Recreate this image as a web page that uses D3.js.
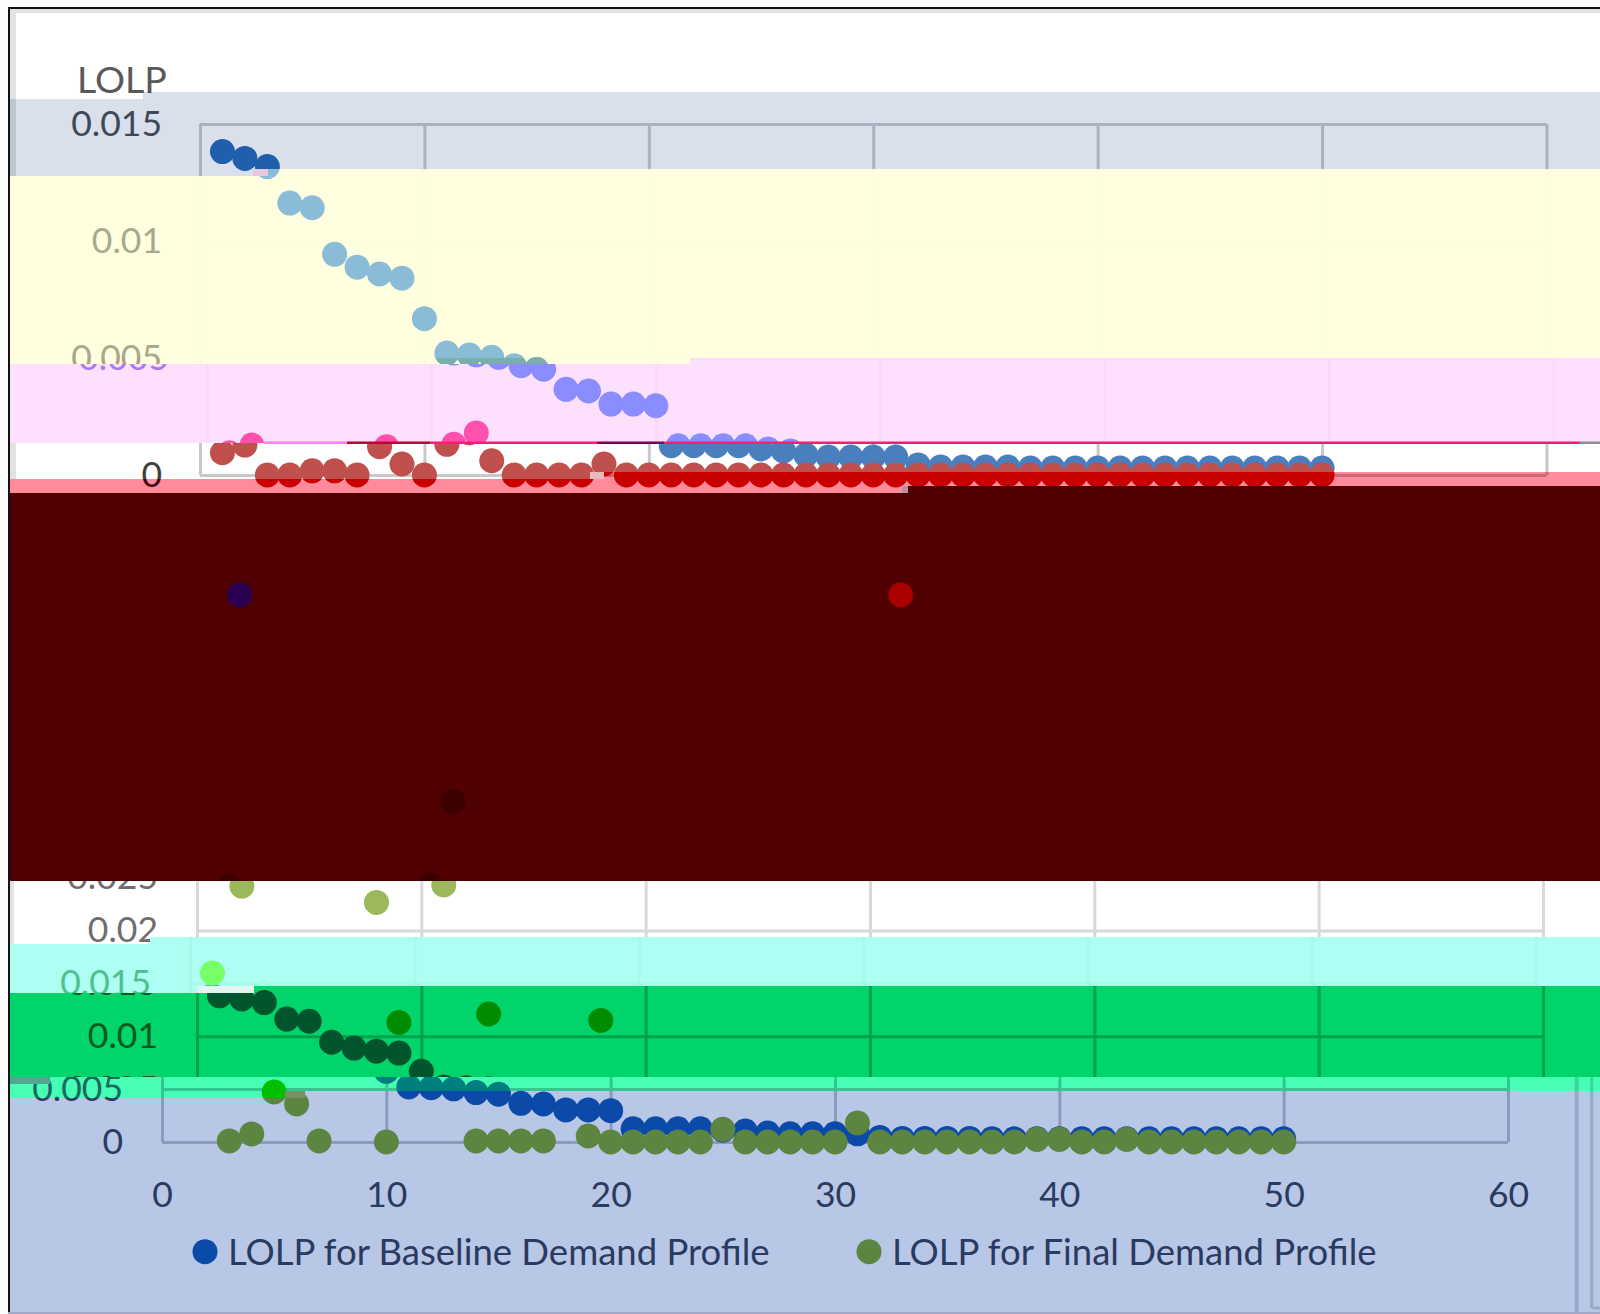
<!DOCTYPE html>
<html>
    <head>
        <title>LOLP</title>
        <script src="https://d3js.org/d3.v7.min.js"></script>
        <style>
            html, body { margin: 0; padding: 0; background: #fcfcfc; }
            svg { display: block; }
            text { font-family: Lato, "Open Sans", sans-serif; }
        </style>
    </head>
    <body>
        <svg class="chart"></svg>
        <script>
            // values
            var hours = d3.range(1, 51);
            var baselineLolp = [.01382,.01353,.01318,.01162,.01142,.00943,.00888,.00859,.00841,.00668,
                                .00521,.00513,.00503,.00467,.00452,.00366,.00359,.00303,.00303,.00296,
                                .00125,.00125,.00125,.00125,.00111,.00103,.00085,.00077,.00077,.00077,
                                .00077,.00043,.00034,.00034,.00034,.00034,.0003,.0003,.0003,.0003,
                                .0003,.0003,.0003,.0003,.0003,.0003,.0003,.0003,.0003,.0003];
            var topLolp = [.00095,.00128,0,0,.00018,.00018,0,.00121,.00047,0,
                           .00131,.0018,.00061,0,0,0,0,.00047,0,0,
                           0,0,0,0,0,0,0,0,0,0,
                           0,0,0,0,0,0,0,0,0,0,
                           0,0,0,0,0,0,0,0,0,0];
            var finalLolp = [.01598,.0242,.0001,.00076,.00473,.0036,.0001,.02265,.0113,0,
                             .0243,.0322,.0121,.0001,.0001,.0001,.0001,.0115,.00057,0,
                             0,0,0,0,.0012,0,0,0,0,0,
                             .0018,0,0,0,0,0,0,0,.00025,.00025,
                             0,0,.00025,0,0,0,0,0,0,0];
            var xTicks = [0,10,20,30,40,50,60];
            var yTicksTop = [0,.005,.01,.015];
            var yTicksLow = [0,.005,.01,.015,.02,.025];
            var legendNames = ["LOLP for Baseline Demand Profile","LOLP for Final Demand Profile"];

            var svgWidth = 1600, svgHeight = 1314, fontSize = 35.5, titleSize = 37.5, legendSize = 36.5;

            var svg = d3.select(".chart").attr("width",svgWidth).attr("height",svgHeight);
            var defs = svg.append("defs");

            // the two charts stacked in the picture
            var scenes = {
                top: {
                    x: d3.scaleLinear().domain([0,60]).range([200,1546.5]),
                    y: d3.scaleLinear().domain([0,.015]).range([475,124]),
                    ticks: yTicksTop, a: baselineLolp, b: topLolp, labelGap: 38
                },
                low: {
                    x: d3.scaleLinear().domain([0,60]).range([197,1543]),
                    y: d3.scaleLinear().domain([0,.025]).range([1142,877.6]),
                    ticks: yTicksLow, a: baselineLolp, b: finalLolp, labelGap: 39
                }
            };

            // the damaged horizontal stretches: each one recolours and shifts what is under it
            // step = x where the stretch starts one row higher (h px)
            var bands = [
                {y:9,   step:10,  h:0, scene:"top", dx:0,  bg:"#ffffff", grid:"#c4c4c4", text:"#595959", a:"#2060ab", b:"#c0504d", edge:"#e2e2e2"},
                {y:92,  step:143, h:7, scene:"top", dx:0,  bg:"#d9e0eb", grid:"#aab2bf", text:"#3f4856", a:"#1f5fab", b:"#c0504d", edge:"#bfc7d3"},
                {y:169, step:253, h:7, scene:"top", dx:0,  bg:"#ffffe0", grid:"#fefede", text:"#a9a98c", a:"#8abcd8", b:"#c0504d", edge:"#ffffe0"},
                {y:358, step:10,  h:0, scene:"top", dx:0,  bg:"#ffffe0", grid:"#fefede", text:"#b0a080", a:"#7aaea8", b:"#c0504d", edge:"#ffffe0"},
                {y:358, step:690, h:6, scene:"top", dx:7,  bg:"#fce0fd", grid:"#f9daf9", text:"#a878f0", a:"#8a8cff", b:"#ff50b0", edge:"#fce0fd"},
                {y:443, step:10,  h:0, scene:"top", dx:0,  bg:"#ffffff", grid:"#c8c8c8", text:"#404040", a:"#4a7ebd", b:"#c0504d", edge:"#e2e2e2"},
                {y:472, step:590, h:7, scene:"top", dx:0,  bg:"#ff8a9c", grid:"#c86878", text:"#400010", a:"#a00040", b:"#c80000", edge:"#ff8a9c"},
                {y:486, step:902, h:7, scene:"low", dx:-13, bg:"#500000", grid:"none",   text:"none",    a:"#500000", b:"#3d0000", edge:"#500000", swatches:["#2a0050","#a80000"], legendX:[239.7,900.7], legendY:595},
                {y:881, step:10,  h:0, scene:"low", dx:0,  bg:"#ffffff", grid:"#d9d9d9", text:"#6e6e6e", a:"#2060ab", b:"#9bb85a", edge:"#e2e2e2"},
                {y:937, step:150, h:7, scene:"low", dx:-7, bg:"#adfff3", grid:"#a6fbe8", text:"#50c090", a:"#50c0c0", b:"#77ff66", edge:"#adfff3"},
                {y:986, step:198, h:7, scene:"low", dx:0,  bg:"#00d46a", grid:"#00a24a", text:"#0a5a20", a:"#00552d", b:"#008c00", edge:"#00d46a"},
                {y:1077,step:10,  h:0, scene:"low", dx:-35,bg:"#46ffb4", grid:"#30c890", text:"#1a6a60", a:"#007f80", b:"#00c000", edge:"#46ffb4", outer:"#36d8a0"},
                {y:1091,step:285, h:7, scene:"low", dx:-35,bg:"#b9c7e6", grid:"#8d9abc", text:"#2a3a60", a:"#0b4aa8", b:"#5b8540", edge:"#b9c7e6", outer:"#9ba7c7", legendX:[205,869], legendY:1251.7, legendText:true, swatches:["#0b4aa8","#5b8540"]}
            ];

            function bandPoints(cur, next) {
                var nextY = next ? next.y : 1313, nextStep = next ? next.step : 10, nextH = next ? next.h : 0;
                return [[10,cur.y+cur.h],[cur.step,cur.y+cur.h],[cur.step,cur.y],[svgWidth,cur.y],
                        [svgWidth,nextY],[nextStep,nextY],[nextStep,nextY+nextH],[10,nextY+nextH]];
            }

            function drawAxes(g, scene, band) {
                var width = scene.x.range()[1] - scene.x.range()[0],
                    height = scene.y.range()[0] - scene.y(d3.max(scene.ticks));
                var xAxis = d3.axisBottom(scene.x).tickValues(xTicks).tickSize(-height).tickPadding(40)
                    .tickFormat(band.scene == "low" ? d3.format("d") : "");
                var yAxis = d3.axisLeft(scene.y).tickValues(scene.ticks).tickSize(-width).tickPadding(scene.labelGap)
                    .tickFormat(function(d) { return String(d); });

                var xg = g.append("g").attr("transform","translate(0," + scene.y.range()[0] + ")").call(xAxis);
                var yg = g.append("g").attr("transform","translate(" + scene.x.range()[0] + ",0)").call(yAxis);
                [xg,yg].forEach(function(a) {
                    a.select(".domain").remove();
                    a.selectAll("line").attr("stroke",band.grid).attr("stroke-width",3);
                    a.selectAll("text").attr("fill",band.text).attr("font-size",fontSize)
                     .style("font-family","Lato, 'Open Sans', sans-serif");
                });
                if (band.scene == "top") {
                    g.append("text").attr("x",122).attr("y",93).attr("text-anchor","middle")
                        .attr("font-size",titleSize).attr("fill",band.text).text("LOLP");
                }
            }

            function drawDots(g, scene, values, color) {
                g.append("g").selectAll("circle")
                    .data(hours).enter().append("circle")
                    .attr("r",12.5)
                    .attr("cx",function(d) { return scene.x(d); })
                    .attr("cy",function(d,i) { return scene.y(values[i]); })
                    .attr("fill",color);
            }

            function drawLegend(g, band) {
                legendNames.forEach(function(name,i) {
                    var left = band.legendX[i];
                    g.append("circle").attr("cx",left).attr("cy",band.legendY).attr("r",12.5).attr("fill",band.swatches[i]);
                    if (band.legendText) {
                        g.append("text").attr("x",left+23).attr("y",band.legendY+13)
                            .attr("font-size",legendSize).attr("fill",band.text).text(name);
                    }
                });
            }

            bands.forEach(function(band,i) {
                var pts = bandPoints(band,bands[i+1]),
                    scene = scenes[band.scene],
                    id = "band" + i;
                defs.append("clipPath").attr("id",id).append("polygon").attr("points",pts.join(" "));
                var g = svg.append("g").attr("clip-path","url(#" + id + ")");
                g.append("polygon").attr("points",pts.join(" ")).attr("fill",band.bg);
                var inner = g.append("g").attr("transform","translate(" + band.dx + ",0)");
                if (band.grid != "none") drawAxes(inner,scene,band);
                if (band.outer) {
                    // edge of the slide behind the chart, only in reach of the shifted rows
                    inner.append("line").attr("x1",1611.7).attr("x2",1611.7).attr("y1",1000).attr("y2",1314)
                        .attr("stroke",band.outer).attr("stroke-width",4);
                    inner.append("line").attr("x1",1626.7).attr("x2",1626.7).attr("y1",1000).attr("y2",1308)
                        .attr("stroke",band.outer).attr("stroke-width",3);
                    inner.append("line").attr("x1",1626.7).attr("x2",1700).attr("y1",1308).attr("y2",1308)
                        .attr("stroke",band.outer).attr("stroke-width",3);
                }
                drawDots(inner,scene,scene.a,band.a);
                drawDots(inner,scene,scene.b,band.b);
                if (band.legendY) drawLegend(g,band);
                g.append("rect").attr("x",10).attr("y",0).attr("width",band.y < 450 ? 6 : 4).attr("height",svgHeight).attr("fill",band.edge);
            });

            // bright row left behind by the damage
            var streaks = [[264,347,"#ff80f0"],[347,430,"#c00030"],[430,597,"#ff1a75"],[597,664,"#800050"],[664,1580,"#ff1a75"],[1580,1600,"#909090"]];
            svg.append("g").selectAll("rect").data(streaks).enter().append("rect")
                .attr("x",function(d) { return d[0]; }).attr("width",function(d) { return d[1]-d[0]; })
                .attr("y",441.5).attr("height",2.5).attr("fill",function(d) { return d[2]; });

            // small speckled patches where a stretch starts
            var specks = [[253,169,15,7,"#e8c8e0"],[198,986,56,7,"#e4f4f0"],[10,1077,40,7,"#50a890"],[285,1091,20,7,"#7a9060"],[590,472,14,7,"#e8b8c0"],[902,486,6,7,"#b890a0"]];
            svg.append("g").selectAll("rect").data(specks).enter().append("rect")
                .attr("x",function(d) { return d[0]; }).attr("y",function(d) { return d[1]; })
                .attr("width",function(d) { return d[2]; }).attr("height",function(d) { return d[3]; })
                .attr("fill",function(d) { return d[4]; });

            // frame
            svg.append("rect").attr("x",10).attr("y",9).attr("width",1590).attr("height",4).attr("fill","#e2e2e2");
            svg.append("rect").attr("x",8).attr("y",7).attr("width",1592).attr("height",2).attr("fill","#111");
            svg.append("rect").attr("x",8).attr("y",7).attr("width",2).attr("height",1306).attr("fill","#111");
            svg.append("rect").attr("x",8).attr("y",1312).attr("width",1592).attr("height",2).attr("fill","#a0aac8");
        </script>
    </body>
</html>
